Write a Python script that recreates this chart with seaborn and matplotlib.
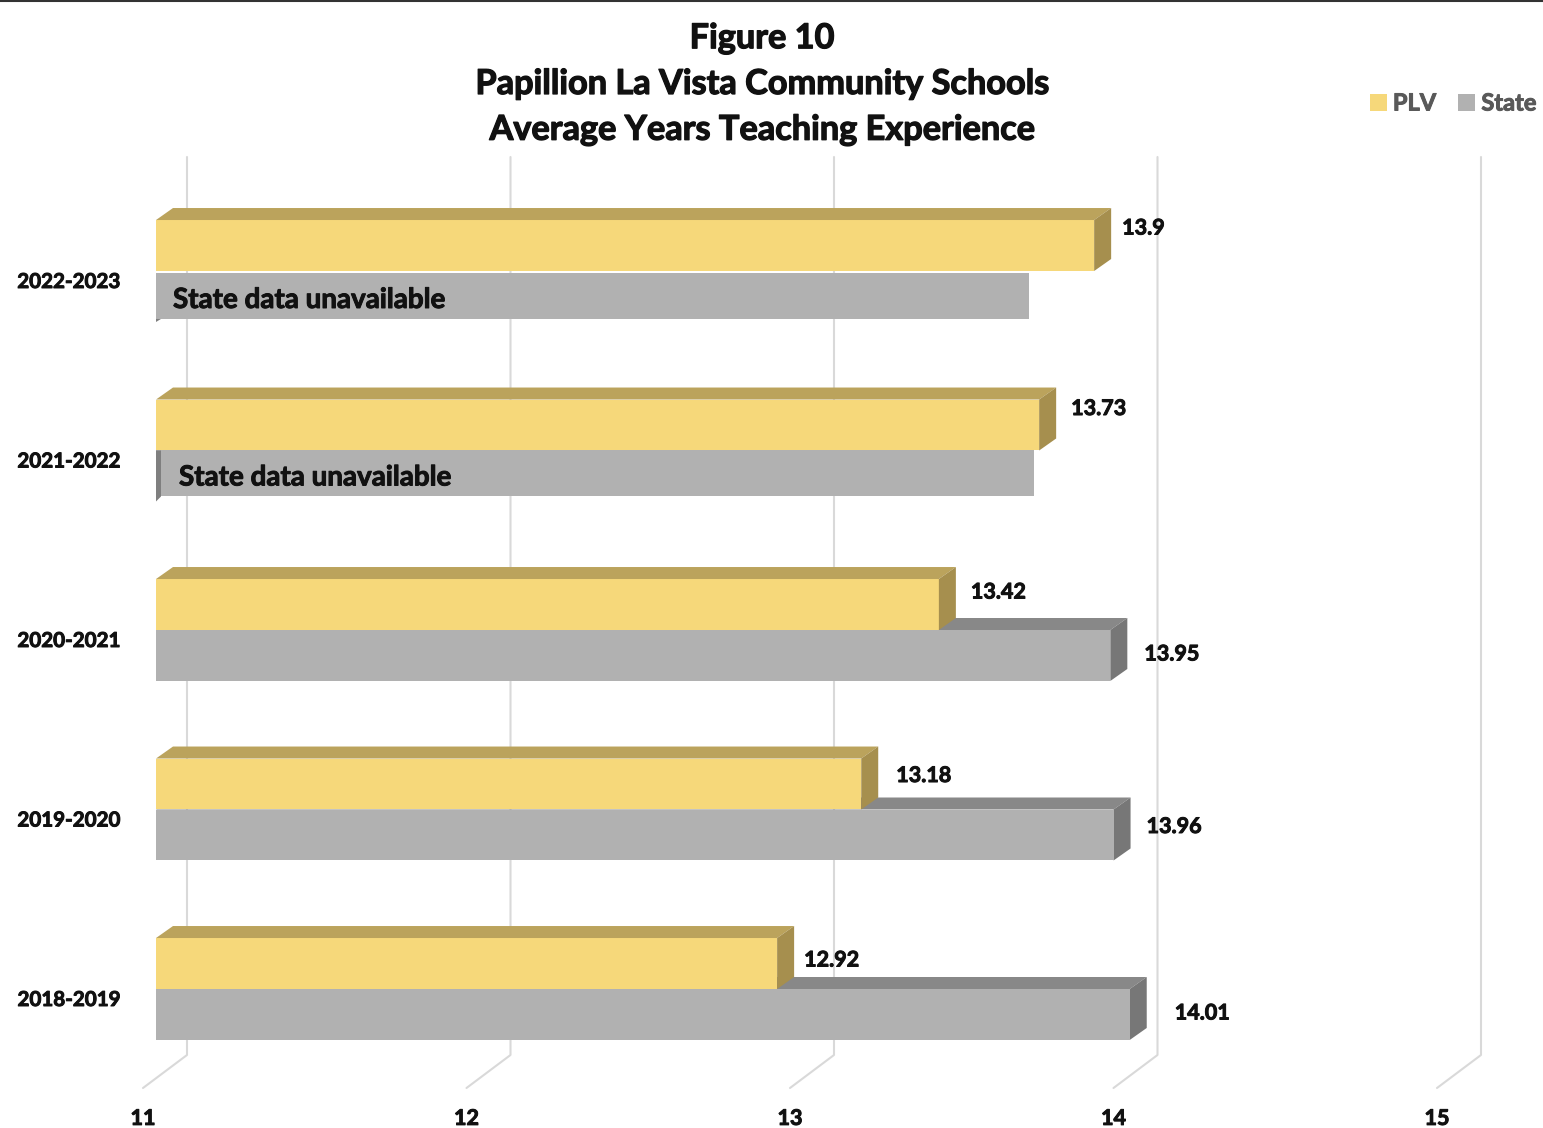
import matplotlib
matplotlib.use('Agg')
import matplotlib.pyplot as plt
import matplotlib.patheffects as pe
import pandas as pd
import seaborn as sns
from matplotlib.lines import Line2D
from matplotlib.patches import Polygon
from matplotlib.transforms import Affine2D, ScaledTranslation

# data
years = ['2022-2023', '2021-2022', '2020-2021', '2019-2020', '2018-2019']
plv = [13.9, 13.73, 13.42, 13.18, 12.92]
state = [13.70, 13.715, 13.95, 13.96, 14.01]
state_missing = [True, True, False, False, False]
xticks = [11, 12, 13, 14, 15]

W, H = 1543, 1128
DX, DY = 17, 12  # depth of the fake 3d bars, px
PITCH = 179.5    # px per category

# label nudges from the bar end / bar top, px
plv_off = [(28, 8), (32, 9), (32, 13), (35, 17), (27, 22)]
state_off = [None, None, (34, 24), (33, 17), (45, 24)]
note_x = [17, 23]
trim_top = [2, 0]
trim_bottom = [3, 5]

sns.set_theme(style='white')
plt.rcParams['font.family'] = ['Lato', 'DejaVu Sans']
plt.rcParams['font.weight'] = 'bold'

# no real heavy weight comes through, so thicken the glyphs a little
heavy = [pe.withStroke(linewidth=0.7, foreground='#111111')]

fig = plt.figure(figsize=(W / 100, H / 100), dpi=100, facecolor='white')
ax = fig.add_axes([156 / W, 1 - 1078.75 / H, 1294 / W, 897.5 / H])
ax.patch.set_alpha(0)

df = pd.DataFrame({
    'year': years * 2,
    'series': ['PLV'] * 5 + ['State'] * 5,
    'value': plv + state,
})
sns.barplot(data=df, y='year', x='value', hue='series', order=years,
            palette={'PLV': '#F6D87A', 'State': '#B1B1B1'},
            width=0.568, gap=0, saturation=1, linewidth=0, ax=ax)
ax.set_xlim(11, 15)
ax.set_ylim(4.5, -0.5)
ax.autoscale(False)
sns.despine(ax=ax, left=True, bottom=True)
ax.set_xlabel('')
ax.set_ylabel('')

# top-left pixel coordinates, for the things excel drew outside the plot plane
px = Affine2D().scale(1, -1).translate(0, H)


def to_px(x, y):
    a, b = ax.transData.transform((x, y))
    return a, H - b


def face(points, color, z):
    ax.add_patch(Polygon(points, closed=True, facecolor=color, edgecolor='none',
                         transform=px, clip_on=False, zorder=z))


# back wall + floor gridlines
for t in xticks:
    x0, _ = to_px(t, 0)
    ax.plot([x0 - 13, x0 + 31, x0 + 31], [1088, 1055, 157], color='#D9D9D9', lw=1.5,
            transform=px, clip_on=False, zorder=1)

plv_bars = [p for p in ax.patches[:5]]
state_bars = [p for p in ax.patches[5:10]]

for i, bar in enumerate(plv_bars):
    bar.set_zorder(3)
    xe, yt = to_px(bar.get_width(), bar.get_y())
    xs, yb = to_px(11, bar.get_y() + bar.get_height())
    face([(xs, yt), (xs + DX, yt - DY), (xe + DX, yt - DY), (xe, yt)], '#BBA35C', 4)
    face([(xe, yt), (xe + DX, yt - DY), (xe + DX, yb - DY), (xe, yb)], '#A68F4E', 4)
    ax.annotate(str(plv[i]), (bar.get_width(), bar.get_y()), xytext=(plv_off[i][0], -plv_off[i][1]),
                textcoords='offset pixels', ha='left', va='center', fontsize=15.5,
                color='#111111', zorder=6, path_effects=heavy)

for i, bar in enumerate(state_bars):
    bar.set_zorder(3)
    xe, yt = to_px(bar.get_width(), bar.get_y())
    xs, yb = to_px(11, bar.get_y() + bar.get_height())
    if state_missing[i]:
        # text box in the original hides the 3d faces and trims the bar
        bar.set_y(bar.get_y() + trim_top[i] / PITCH)
        bar.set_height(bar.get_height() - (trim_top[i] + trim_bottom[i]) / PITCH)
        yt = to_px(11, bar.get_y())[1]
        _, yb = to_px(11, bar.get_y() + bar.get_height())
        if i == 0:
            face([(xs, yb), (xs + 5, yb), (xs, yb + 3)], '#7F7F7F', 4)
        else:
            face([(xs, yt), (xs + 5, yt), (xs + 5, yb), (xs, yb + 5)], '#7F7F7F', 4)
        ax.annotate('State data unavailable', (11, bar.get_y() + bar.get_height() / 2),
                    xytext=(note_x[i], -4), textcoords='offset pixels', ha='left',
                    va='center', fontsize=20, color='#111111', zorder=6, path_effects=heavy)
        continue
    face([(xs, yt), (xs + DX, yt - DY), (xe + DX, yt - DY), (xe, yt)], '#888888', 2)
    face([(xe, yt), (xe + DX, yt - DY), (xe + DX, yb - DY), (xe, yb)], '#777777', 2)
    ax.annotate(str(state[i]), (bar.get_width(), bar.get_y()), xytext=(state_off[i][0], -state_off[i][1]),
                textcoords='offset pixels', ha='left', va='center', fontsize=15.5,
                color='#111111', zorder=6, path_effects=heavy)

ax.set_xticks(xticks)
ax.set_xticklabels([str(t) for t in xticks], fontsize=15.5, color='#111111', path_effects=heavy)
ax.set_yticks(range(len(years)))
ax.set_yticklabels(years, fontsize=14.8, color='#111111', path_effects=heavy)
ax.tick_params(axis='x', length=0, pad=21)
ax.tick_params(axis='y', length=0, pad=26)
for lab in ax.get_xticklabels():
    lab.set_transform(lab.get_transform() + ScaledTranslation(-0.13, 0, fig.dpi_scale_trans))
for lab in ax.get_yticklabels():
    lab.set_transform(lab.get_transform() + ScaledTranslation(0, -0.09, fig.dpi_scale_trans))

handles, labels = ax.get_legend_handles_labels()
leg = ax.legend(handles, labels, ncol=2, frameon=False, loc='center left',
                bbox_to_anchor=(1370 / W, 1 - 103 / H), bbox_transform=fig.transFigure,
                fontsize=17, labelcolor='#595959', handlelength=0.72, handleheight=0.72,
                handletextpad=0.25, columnspacing=0.95, borderpad=0, borderaxespad=0)
for txt in leg.get_texts():
    txt.set_path_effects([pe.withStroke(linewidth=0.7, foreground='#595959')])

fig.text(762 / W, 1 - 84 / H,
         'Figure 10\nPapillion La Vista Community Schools\nAverage Years Teaching Experience',
         ha='center', va='center', fontsize=24.7, color='#111111', linespacing=1.53,
         path_effects=[pe.withStroke(linewidth=0.9, foreground='#111111')])
fig.add_artist(Line2D([0, 1], [1 - 0.5 / H] * 2, color='#333333', lw=1.5))

fig.savefig('out.png', dpi=100)
